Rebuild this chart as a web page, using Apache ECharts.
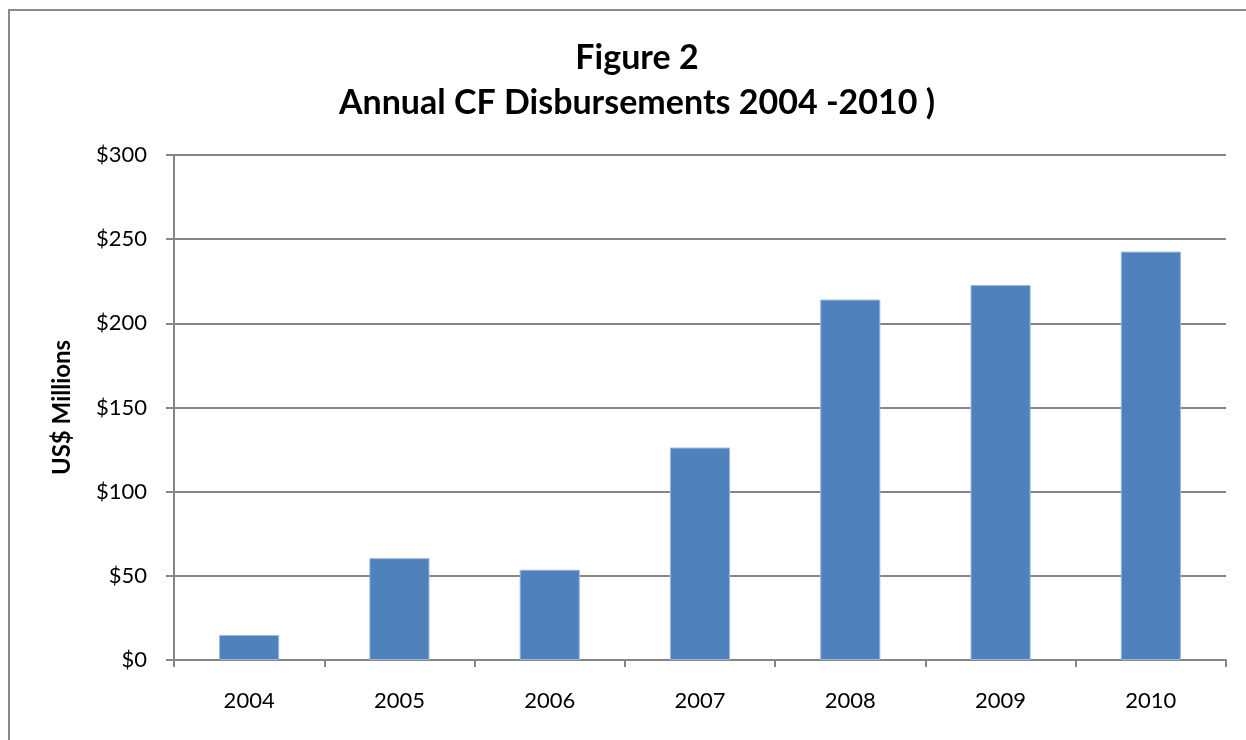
<!DOCTYPE html>
<html>
<head>
<meta charset="utf-8">
<script src="https://cdn.jsdelivr.net/npm/echarts@6/dist/echarts.min.js"></script>
<style>
html,body{margin:0;padding:0;background:#fff;}
#chart{width:1246px;height:740px;}
</style>
</head>
<body>
<div id="chart"></div>
<script>
var categories = ['2004', '2005', '2006', '2007', '2008', '2009', '2010'];
var disbursements = [14.8, 60.5, 53.6, 126.2, 214.1, 222.8, 242.6];
var titleLines = ['Figure 2', 'Annual CF Disbursements 2004 -2010 )'];
var yAxisName = 'US$ Millions';

var FONT = 'Lato';
var chart = echarts.init(document.getElementById('chart'));
chart.setOption({
  backgroundColor: '#ffffff',
  animation: false,
  title: {
    text: titleLines.join('\n'),
    left: 632,
    textAlign: 'center',
    top: 31,
    textStyle: {
      fontFamily: FONT,
      fontWeight: 'bold',
      fontSize: 34,
      lineHeight: 45,
      color: '#000'
    }
  },
  graphic: [{
    type: 'rect',
    z: -10,
    silent: true,
    shape: { x: 9, y: 10, width: 1400, height: 900 },
    style: { fill: 'none', stroke: '#8a8a8a', lineWidth: 2 }
  }],
  grid: { left: 174, right: 20, top: 155, bottom: 80, containLabel: false },
  xAxis: {
    type: 'category',
    data: categories,
    axisLine: { lineStyle: { color: '#868686', width: 2 } },
    axisTick: { show: true, length: 7, lineStyle: { color: '#868686', width: 2 } },
    axisLabel: { fontFamily: FONT, fontSize: 22, color: '#000', margin: 30 }
  },
  yAxis: {
    type: 'value',
    min: 0,
    max: 300,
    interval: 50,
    name: yAxisName,
    nameLocation: 'middle',
    nameGap: 100,
    nameTextStyle: { fontFamily: FONT, fontWeight: 'bold', fontSize: 24, color: '#000' },
    axisLine: { show: true, lineStyle: { color: '#868686', width: 2 } },
    axisTick: { show: true, length: 8, lineStyle: { color: '#868686', width: 2 } },
    axisLabel: {
      fontFamily: FONT, fontSize: 22, color: '#000', margin: 27,
      formatter: function (v) { return '$' + v; }
    },
    splitLine: { lineStyle: { color: '#868686', width: 2 } }
  },
  series: [{
    type: 'bar',
    data: disbursements,
    barWidth: '40%',
    itemStyle: { color: '#4F81BD', borderColor: '#9DB7DA', borderWidth: 1 }
  }]
});
</script>
</body>
</html>
